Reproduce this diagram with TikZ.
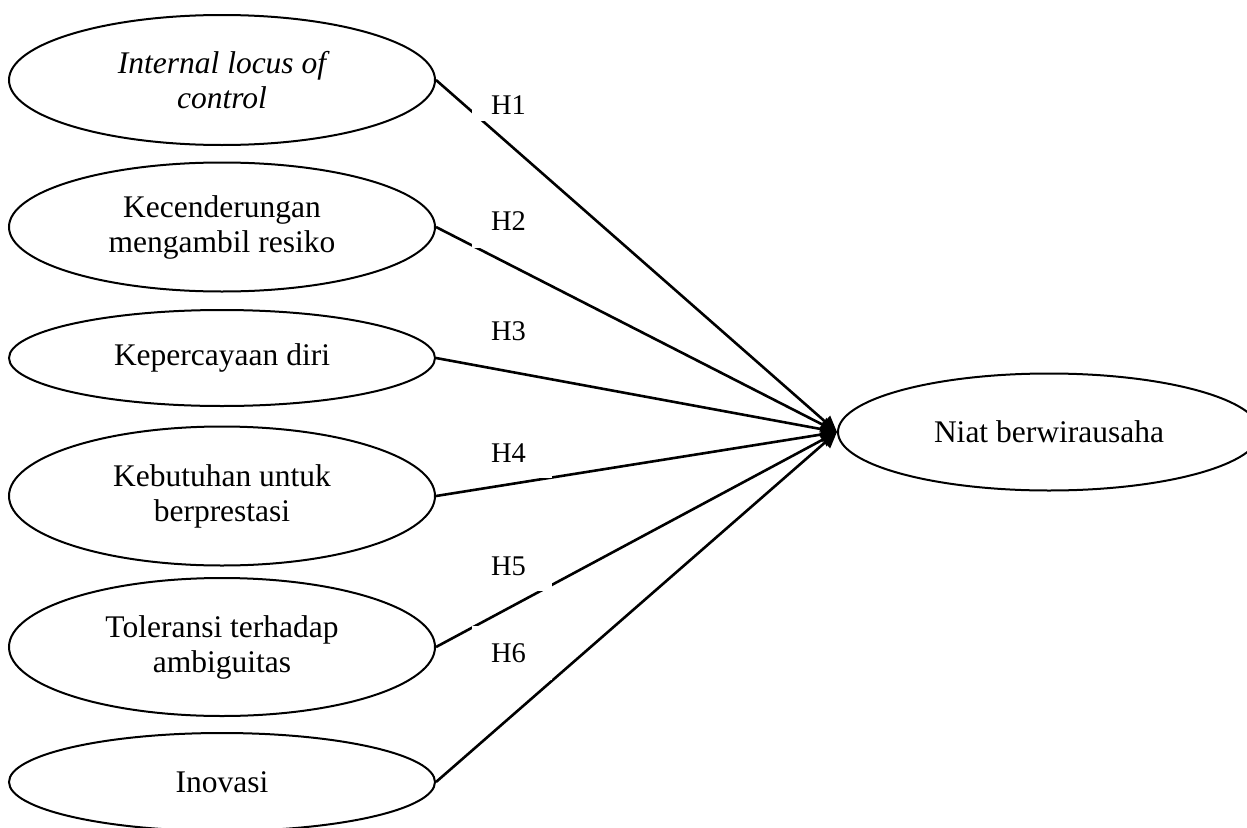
\documentclass[tikz,border=0pt]{standalone}
\usepackage{fontspec}
\setmainfont{Liberation Serif}
\usetikzlibrary{shapes.geometric,arrows.meta}
\begin{document}
\begin{tikzpicture}[x=1pt,y=-1pt,
  var/.style={draw=black,line width=2pt,ellipse,minimum width=426pt,inner sep=0pt,
    align=center,font=\fontsize{31.5}{35}\selectfont},
  path/.style={line width=2.6pt,-{Triangle[length=16pt,width=15pt]}},
  hyp/.style={fill=white,inner sep=0pt,text width=80pt,align=left,font=\fontsize{28.5}{32}\selectfont}]
\useasboundingbox (0,0) rectangle (1247,827);
\clip (0,0) rectangle (1247,827);
\node[var,minimum height=130pt] (e1) at (222,80) {\itshape Internal locus of\\\itshape control};
\node[var,minimum height=129pt] (e2) at (222,227) {Kecenderungan\\mengambil resiko};
\node[var,minimum height=96pt] (e3) at (222,358) {Kepercayaan diri};
\node[var,minimum height=139pt] (e4) at (222,496) {Kebutuhan untuk\\berprestasi};
\node[var,minimum height=138pt] (e5) at (222,647) {Toleransi terhadap\\ambiguitas};
\node[var,minimum height=98pt] (e6) at (222,782) {Inovasi};
\node[var,minimum width=422pt,minimum height=117pt] (t) at (1049,432) {Niat berwirausaha};
\foreach \i in {1,...,6} \draw[path] (e\i.east) -- (t.west);
\node[hyp,minimum height=32pt] (h1) at (512,105) {\hspace*{19pt}H1};
\node[hyp,minimum height=54pt] (h2) at (512,221) {\hspace*{19pt}H2};
\node[hyp,minimum height=32pt] (h3) at (512,331) {\hspace*{19pt}H3};
\node[hyp,minimum height=50pt] (h4) at (512,453) {\hspace*{19pt}H4};
\node[hyp,minimum height=50pt] (h5) at (512,566) {\hspace*{19pt}H5};
\node[hyp,minimum height=54.5pt] (h6) at (512,653) {\hspace*{19pt}H6};
\end{tikzpicture}
\end{document}
